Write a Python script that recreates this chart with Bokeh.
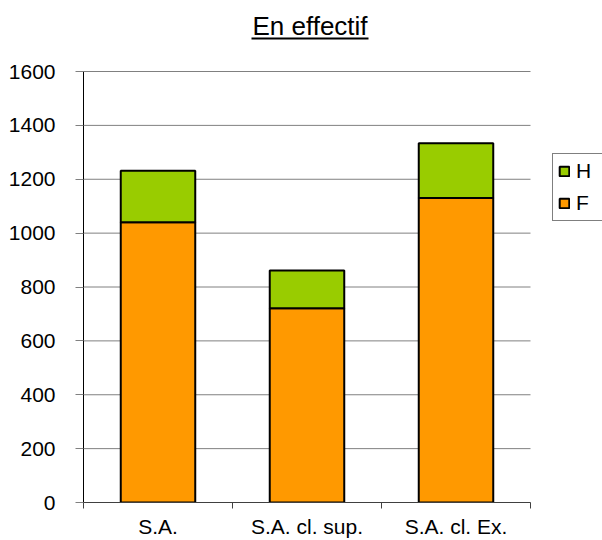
from bokeh.plotting import figure
from bokeh.models import (ColumnDataSource, FixedTicker, Legend, LegendItem,
                          Label, BoxAnnotation, Range1d)
from bokeh.embed import file_html
from bokeh.resources import INLINE

categories = ["S.A.", "S.A. cl. sup.", "S.A. cl. Ex."]
F = [1040, 721, 1130]
H = [192, 140, 204]
y_ticks = [0, 200, 400, 600, 800, 1000, 1200, 1400, 1600]
title_text = "En effectif"

n = len(categories)
xs = [i + 0.5 for i in range(n)]
src = ColumnDataSource(dict(x=xs, F=F, H=H))

FONT = "Liberation Sans"

# frame spans the whole canvas except the axis borders; the extra room
# above / right of the data holds the title and the legend
p = figure(width=602, height=540, output_backend="svg", toolbar_location=None,
           x_range=Range1d(0, n * 519 / 447),
           y_range=Range1d(0, y_ticks[-1] * 502 / 431),
           min_border_left=83, min_border_right=0, min_border_top=0,
           min_border_bottom=38)
p.outline_line_color = None
p.background_fill_color = "white"

# horizontal grid lines, limited to the category area
p.segment(x0=[0] * len(y_ticks), x1=[n] * len(y_ticks), y0=y_ticks, y1=y_ticks,
          line_color="#808080", line_width=1, level="underlay")

rs = p.vbar_stack(["F", "H"], x="x", width=0.5, source=src,
                  fill_color=["#FF9900", "#99CC00"], line_color="black",
                  line_width=2)

# title + underline
p.add_layout(Label(x=226.5, y=477, x_units="screen", y_units="screen",
                   text=title_text, text_font=FONT, text_font_size="26px",
                   text_color="black", text_align="center",
                   text_baseline="middle"))
p.add_layout(BoxAnnotation(left=168, right=285, bottom=463, top=465,
                           left_units="screen", right_units="screen",
                           top_units="screen", bottom_units="screen",
                           fill_color="black", fill_alpha=1, line_color=None))

# y axis
p.yaxis.ticker = FixedTicker(ticks=y_ticks)
p.yaxis.bounds = (y_ticks[0], y_ticks[-1])
p.yaxis.axis_line_color = "black"
p.yaxis.major_tick_line_color = "#808080"
p.yaxis.major_tick_out = 8
p.yaxis.major_tick_in = 0
p.yaxis.minor_tick_line_color = None
p.yaxis.major_label_text_font = FONT
p.yaxis.major_label_text_font_size = "21px"
p.yaxis.major_label_text_color = "black"
p.yaxis.major_label_standoff = 20

# x axis: labels at category centres, ticks at category boundaries
p.xaxis.ticker = FixedTicker(ticks=xs, minor_ticks=list(range(n + 1)))
p.xaxis.bounds = (0, n)
p.xaxis.major_label_overrides = {x: c for x, c in zip(xs, categories)}
p.xaxis.axis_line_color = "#404040"
p.xaxis.major_tick_line_color = None
p.xaxis.major_tick_out = 0
p.xaxis.major_tick_in = 0
p.xaxis.minor_tick_line_color = "#404040"
p.xaxis.minor_tick_out = 6
p.xaxis.minor_tick_in = 0
p.xaxis.major_label_text_font = FONT
p.xaxis.major_label_text_font_size = "21px"
p.xaxis.major_label_text_color = "black"
p.xaxis.major_label_standoff = 6

p.xgrid.grid_line_color = None
p.ygrid.grid_line_color = None

legend = Legend(items=[LegendItem(label="H", renderers=[rs[1]]),
                       LegendItem(label="F", renderers=[rs[0]])],
                location=(469, 281))
legend.border_line_color = "black"
legend.border_line_width = 1
legend.background_fill_color = "white"
legend.label_text_font = FONT
legend.label_text_font_size = "21px"
legend.label_text_color = "black"
legend.glyph_width = 12
legend.glyph_height = 12
legend.label_height = 24
legend.label_width = 30
legend.label_standoff = 6
legend.spacing = 8
legend.padding = 5
legend.margin = 0
p.add_layout(legend, "center")

open("out.html", "w").write(file_html(p, INLINE))
